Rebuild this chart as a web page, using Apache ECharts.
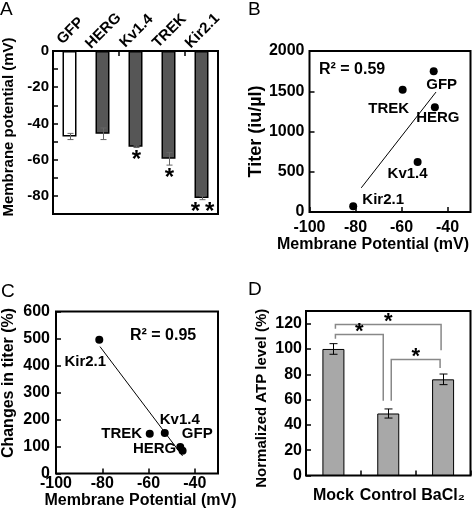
<!DOCTYPE html>
<html><head><meta charset="utf-8">
<script src="https://cdn.jsdelivr.net/npm/echarts@6/dist/echarts.min.js"></script>
<style>html,body{margin:0;padding:0;background:#fff}#c{width:473px;height:519px}</style>
</head><body><div id="c"></div>
<script>
// ---- Panel A: membrane potential per channel ----
const channelCats = ['GFP', 'HERG', 'Kv1.4', 'TREK', 'Kir2.1'];
const membranePotential = [-47.2, -45.7, -52.8, -59.5, -81.1];
const membranePotentialErr = [1.7, 3.2, 0.5, 3.5, 1.0];
const significanceA = ['', '', '*', '*', '*\u2009*'];

// ---- Panel B: titer vs membrane potential ----
const titerNames = ['GFP', 'HERG', 'TREK', 'Kv1.4', 'Kir2.1'];
const titerPotential = [-46, -45.5, -59.5, -53, -81];
const titerValues = [1750, 1300, 1520, 620, 70];
const titerFitX = [-77.5, -45];
const titerFitY = [300, 1490];
const r2B = 'R² = 0.59';

// ---- Panel C: change in titer vs membrane potential ----
const changeNames = ['Kir2.1', 'TREK', 'Kv1.4', 'GFP', 'HERG'];
const changePotential = [-81.3, -59.5, -53, -46.3, -45.3];
const changeValues = [495, 147, 150, 98, 84];
const changeFitX = [-81, -45.3];
const changeFitY = [470, 65];
const r2C = 'R² = 0.95';

// ---- Panel D: normalized ATP level ----
const atpCats = ['Mock', 'Control', 'BaCl₂'];
const atpValues = [100, 49, 76];
const atpErr = [4.2, 3.6, 4.2];
// [fromIndex, toIndex, bracketLevel, leftDropTo, rightDropTo]
const atpBrackets = [[0, 2, 120, 116, 99], [0, 1, 112, 108, 59], [1, 2, 92, 59, 85]];

const FONT = 'Liberation Sans, Arial, sans-serif';
const chart = echarts.init(document.getElementById('c'), null, {renderer: 'canvas'});

const gridStyle = {show: true, borderColor: '#000', borderWidth: 2, backgroundColor: 'transparent'};
const tickIn = {show: true, inside: true, length: 5, lineStyle: {color: '#000', width: 1.5}};
const lblStyle = {color: '#000', fontFamily: FONT, fontWeight: 'bold', fontSize: 16};
const nameStyle = {color: '#000', fontFamily: FONT, fontWeight: 'bold', fontSize: 15};
const plain = v => String(v);

function errRender(cap, color, sigs, sigFont) {
  return function (params, api) {
    const i = api.value(0), v = api.value(1), e = api.value(2);
    const hi = api.coord([i, v + e]), lo = api.coord([i, v - e]);
    const x = Math.round(hi[0]) + 0.5;
    const st = {stroke: color, lineWidth: 1};
    const ch = [
      {type: 'line', shape: {x1: x, y1: hi[1], x2: x, y2: lo[1]}, style: st},
      {type: 'line', shape: {x1: x - cap, y1: hi[1], x2: x + cap, y2: hi[1]}, style: st},
      {type: 'line', shape: {x1: x - cap, y1: lo[1], x2: x + cap, y2: lo[1]}, style: st}
    ];
    if (sigs && sigs[params.dataIndex]) {
      ch.push({type: 'text', style: {text: sigs[params.dataIndex], x: x, y: lo[1] + 1,
        align: 'center', verticalAlign: 'top', font: sigFont, fill: '#000'}});
    }
    return {type: 'group', children: ch};
  };
}

// rotated category labels for panel A (centred on each category, 45 degrees)
function catLabelRender(params, api) {
  const p = api.coord([api.value(0), 0]);
  return {type: 'text', x: p[0] + 1, y: p[1] - 20, rotation: Math.PI / 4,
    style: {text: channelCats[params.dataIndex], x: 0, y: 0, align: 'center', verticalAlign: 'middle',
      font: 'bold 15px ' + FONT, fill: '#000'}};
}

const bracketOffsets = [[2, -2], [2, -5], [3, -3]];
function bracketRender(params, api) {
  const b = atpBrackets[params.dataIndex];
  const pl = api.coord([b[0], b[2]]), pr = api.coord([b[1], b[2]]);
  const xl = pl[0] + bracketOffsets[params.dataIndex][0];
  const xr = pr[0] + bracketOffsets[params.dataIndex][1];
  const yl = api.coord([b[0], b[3]])[1], yr = api.coord([b[1], b[4]])[1];
  const y = Math.round(pl[1]) + 0.5;
  return {type: 'group', children: [
    {type: 'polyline', shape: {points: [[xl, yl], [xl, y], [xr, y], [xr, yr]]},
      style: {stroke: '#888', lineWidth: 1.5, fill: null}},
    {type: 'text', style: {text: '*', x: (xl + xr) / 2, y: y + 8, align: 'center', verticalAlign: 'bottom',
      font: 'bold 22px ' + FONT, fill: '#000'}}
  ]};
}

const offB = {'GFP': [8, 14], 'TREK': [-14, 19], 'HERG': [3, 11], 'Kv1.4': [-10, 12], 'Kir2.1': [30, -7]};
const offC = {'Kir2.1': [-14, 22], 'TREK': [-28, 0], 'Kv1.4': [15, -13], 'GFP': [17, -13], 'HERG': [-28, -2]};

function scatterData(names, xs, ys, offs) {
  return names.map((n, i) => ({
    name: n, value: [xs[i], ys[i]],
    label: {offset: offs[n]}
  }));
}

const scatterLabel = {show: true, position: 'inside', formatter: '{b}', color: '#000',
  fontFamily: FONT, fontWeight: 'bold', fontSize: 15, textBorderWidth: 0};

const option = {
  animation: false,
  backgroundColor: '#fff',
  grid: [
    Object.assign({left: 53, top: 51, width: 165, height: 163}, gridStyle),
    Object.assign({left: 309.5, top: 51, width: 161, height: 161}, gridStyle),
    Object.assign({left: 55, top: 311.5, width: 163, height: 162}, gridStyle),
    Object.assign({left: 306, top: 311, width: 164.5, height: 164.5}, gridStyle)
  ],
  xAxis: [
    {gridIndex: 0, type: 'category', position: 'top', data: channelCats,
      axisLine: {show: false}, axisTick: tickIn, axisLabel: {show: false}},
    {gridIndex: 1, type: 'value', min: -100, max: -30, interval: 20,
      axisLine: {show: false}, axisTick: tickIn, splitLine: {show: false},
      axisLabel: Object.assign({}, lblStyle, {margin: 8, showMaxLabel: false, formatter: plain}),
      name: 'Membrane Potential (mV)', nameLocation: 'middle', nameGap: 18,
      nameTextStyle: Object.assign({}, nameStyle, {fontSize: 16, padding: [0, 34, 0, 0]})},
    {gridIndex: 2, type: 'value', min: -100, max: -30, interval: 20,
      axisLine: {show: false}, axisTick: tickIn, splitLine: {show: false},
      axisLabel: Object.assign({}, lblStyle, {margin: 2, showMaxLabel: false, formatter: plain}),
      name: 'Membrane Potential (mV)', nameLocation: 'middle', nameGap: 12,
      nameTextStyle: Object.assign({}, nameStyle, {fontSize: 16, padding: [0, 0, 0, 7]})},
    {gridIndex: 3, type: 'category', data: atpCats,
      axisLine: {show: false}, axisTick: tickIn,
      axisLabel: Object.assign({}, lblStyle, {margin: 12, interval: 0, hideOverlap: false})}
  ],
  yAxis: [
    {gridIndex: 0, type: 'value', min: -90, max: 0, interval: 10,
      axisLine: {show: false}, axisTick: tickIn, splitLine: {show: false},
      axisLabel: Object.assign({}, lblStyle, {fontSize: 15, margin: 4,
        formatter: v => (Math.round(v) % 20 === 0 ? String(v) : '')}),
      name: 'Membrane potential (mV)', nameLocation: 'middle', nameGap: 37,
      nameTextStyle: Object.assign({}, nameStyle, {padding: [0, 0, 0, 11]})},
    {gridIndex: 1, type: 'value', min: 0, max: 2000, interval: 500,
      axisLine: {show: false}, axisTick: tickIn, splitLine: {show: false},
      axisLabel: Object.assign({}, lblStyle, {margin: 5, formatter: plain}),
      name: 'Titer (iu/µl)', nameLocation: 'middle', nameGap: 40,
      nameTextStyle: Object.assign({}, nameStyle, {fontSize: 18})},
    {gridIndex: 2, type: 'value', min: 0, max: 600, interval: 100,
      axisLine: {show: false}, axisTick: tickIn, splitLine: {show: false},
      axisLabel: Object.assign({}, lblStyle, {margin: 6, formatter: plain}),
      name: 'Changes in titer (%)', nameLocation: 'middle', nameGap: 39,
      nameTextStyle: Object.assign({}, nameStyle, {fontSize: 16, padding: [0, 0, 0, 19]})},
    {gridIndex: 3, type: 'value', min: 0, max: 130, interval: 20,
      axisLine: {show: false}, axisTick: tickIn, splitLine: {show: false},
      axisLabel: Object.assign({}, lblStyle, {margin: 4, showMaxLabel: false, formatter: plain}),
      name: 'Normalized ATP level (%)', nameLocation: 'middle', nameGap: 37,
      nameTextStyle: Object.assign({}, nameStyle, {padding: [0, 10, 0, 0]})}
  ],
  series: [
    {type: 'bar', xAxisIndex: 0, yAxisIndex: 0, barWidth: 14,
      data: membranePotential.map((v, i) => ({value: v,
        itemStyle: i === 0 ? {color: '#fff'} : {color: '#565656'}})),
      itemStyle: {borderColor: '#000', borderWidth: 1.5}},
    {type: 'custom', xAxisIndex: 0, yAxisIndex: 0, z: 5,
      data: membranePotential.map((v, i) => [i, v, membranePotentialErr[i]]),
      renderItem: errRender(3, '#666', significanceA, 'bold 24px ' + FONT)},
    {type: 'custom', xAxisIndex: 0, yAxisIndex: 0, z: 5, clip: false,
      data: channelCats.map((c, i) => [i, 0]),
      renderItem: catLabelRender},
    {type: 'scatter', xAxisIndex: 1, yAxisIndex: 1, symbolSize: 8, itemStyle: {color: '#000', opacity: 1},
      data: scatterData(titerNames, titerPotential, titerValues, offB), label: scatterLabel},
    {type: 'line', xAxisIndex: 1, yAxisIndex: 1, showSymbol: false, symbol: 'none',
      lineStyle: {color: '#000', width: 1}, data: titerFitX.map((x, i) => [x, titerFitY[i]])},
    {type: 'scatter', xAxisIndex: 2, yAxisIndex: 2, symbolSize: 8, itemStyle: {color: '#000', opacity: 1},
      data: scatterData(changeNames, changePotential, changeValues, offC), label: scatterLabel},
    {type: 'line', xAxisIndex: 2, yAxisIndex: 2, showSymbol: false, symbol: 'none',
      lineStyle: {color: '#000', width: 1}, data: changeFitX.map((x, i) => [x, changeFitY[i]])},
    {type: 'bar', xAxisIndex: 3, yAxisIndex: 3, barWidth: 22, data: atpValues,
      itemStyle: {color: '#a8a8a8', borderColor: '#000', borderWidth: 1}},
    {type: 'custom', xAxisIndex: 3, yAxisIndex: 3, z: 5,
      data: atpValues.map((v, i) => [i, v, atpErr[i]]),
      renderItem: errRender(4, '#000')},
    {type: 'custom', xAxisIndex: 3, yAxisIndex: 3, z: 5,
      data: atpBrackets.map(b => [b[0], b[2]]),
      renderItem: bracketRender}
  ],
  graphic: [
    {type: 'text', left: 0, top: 0, style: {text: 'A', font: '19px ' + FONT, fill: '#000'}},
    {type: 'text', left: 248, top: 0, style: {text: 'B', font: '19px ' + FONT, fill: '#000'}},
    {type: 'text', left: 1, top: 282, style: {text: 'C', font: '19px ' + FONT, fill: '#000'}},
    {type: 'text', left: 248, top: 280, style: {text: 'D', font: '19px ' + FONT, fill: '#000'}},
    {type: 'text', left: 319, top: 62, style: {text: r2B, font: 'bold 16px ' + FONT, fill: '#000'}},
    {type: 'text', left: 130, top: 328, style: {text: r2C, font: 'bold 16px ' + FONT, fill: '#000'}}
  ]
};
chart.setOption(option);
</script></body></html>
